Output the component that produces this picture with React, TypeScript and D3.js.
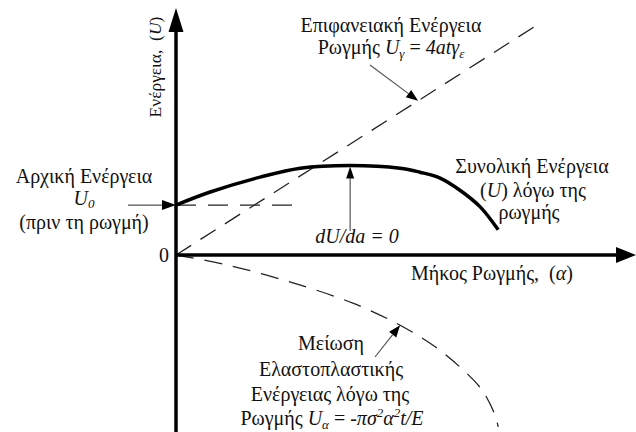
import React from "react";
import * as d3 from "d3";

const W = 636;
const H = 432;

// Crack length (a) against energy (U), arbitrary units
const surfaceA = [0, 81];
const surfaceU = [0, 51.6];

const elasticA = [0, 11.3, 26, 39.3, 49.8, 57.6, 63.1, 68, 70.9, 71.6];
const elasticU = [0, -2.2, -6.2, -10.7, -15.6, -20.4, -24.9, -30, -35.6, -38.2];

const totalA = [0, 7.6, 18.7, 27.6, 38.7, 49.8, 54.2, 58.7, 63.1, 67.6, 71.6];
const totalU = [11.1, 14, 17.3, 19.3, 19.9, 19.3, 18.4, 17.1, 14.4, 10.7, 5.6];

const initialU = 11.1;
const initialLineEnd = 27.1;

// where the leader arrows touch their curves
const surfaceArrowA = 53.8;
const elasticArrowIndex = 4;

const FONT = "Liberation Serif, DejaVu Serif, Times New Roman, serif";
const NB = "\u00a0";

type Pt = [number, number];

function Arrow({ from, to, head = 12, half = 4.5, stroke = "#555", width = 1.2 }: { from: Pt; to: Pt; head?: number; half?: number; stroke?: string; width?: number }) {
  const ang = Math.atan2(to[1] - from[1], to[0] - from[0]);
  const c = Math.cos(ang);
  const s = Math.sin(ang);
  const bx = to[0] - c * head;
  const by = to[1] - s * head;
  const pts = [
    [to[0], to[1]],
    [bx - s * half, by + c * half],
    [bx + s * half, by - c * half],
  ]
    .map((p) => p.join(","))
    .join(" ");
  return (
    <g>
      <line x1={from[0]} y1={from[1]} x2={bx} y2={by} stroke={stroke} strokeWidth={width} />
      <polygon points={pts} fill="#000" />
    </g>
  );
}

export default function App() {
  const x = d3.scaleLinear().domain([0, 100]).range([176, 626]);
  const y = d3.scaleLinear().domain([-40, 55]).range([435, 7.5]);

  const line = d3
    .line<Pt>()
    .x((d) => x(d[0]))
    .y((d) => y(d[1]));
  const smooth = d3
    .line<Pt>()
    .x((d) => x(d[0]))
    .y((d) => y(d[1]))
    .curve(d3.curveCatmullRom.alpha(0.5));

  const surfacePts: Pt[] = surfaceA.map((a, i) => [a, surfaceU[i]]);
  const elasticPts: Pt[] = elasticA.map((a, i) => [a, elasticU[i]]);
  const totalPts: Pt[] = totalA.map((a, i) => [a, totalU[i]]);

  const ox = x(0);
  const oy = y(0);

  const peakIdx = d3.maxIndex(totalU);
  const peakX = x(totalA[peakIdx]);
  const peakY = y(totalU[peakIdx]);

  const surfSlope = (surfaceU[1] - surfaceU[0]) / (surfaceA[1] - surfaceA[0]);
  const surfTip: Pt = [x(surfaceArrowA), y(surfaceArrowA * surfSlope)];
  const elasticTip: Pt = [x(elasticA[elasticArrowIndex]), y(elasticU[elasticArrowIndex])];

  const dashed = { fill: "none", stroke: "#222", strokeWidth: 1.3, strokeDasharray: "18 11" };
  const fs = 20;
  const sub = 13;

  return (
    <svg
      width={W}
      height={H}
      viewBox={`0 0 ${W} ${H}`}
      style={{ position: "absolute", left: 0, top: 0, background: "#fff", fontFamily: FONT, fontSize: fs }}
      fill="#111"
    >
      <rect width={W} height={H} fill="#fff" />

      {/* dashed component curves */}
      <path d={line(surfacePts) ?? ""} {...dashed} />
      <path d={smooth(elasticPts) ?? ""} {...dashed} />
      <line x1={ox} x2={x(initialLineEnd)} y1={y(initialU)} y2={y(initialU)} {...dashed} strokeDasharray="20 12" />

      {/* total energy */}
      <path d={smooth(totalPts) ?? ""} fill="none" stroke="#000" strokeWidth={3.5} />

      {/* axes */}
      <line x1={ox} x2={ox} y1={H} y2={32} stroke="#000" strokeWidth={3.5} />
      <polygon points={`${ox},8 ${ox - 7.5},32 ${ox + 7.5},32`} fill="#000" />
      <line x1={ox} x2={618} y1={oy} y2={oy} stroke="#000" strokeWidth={3.5} />
      <polygon points={`636,${oy} 616,${oy - 8} 616,${oy + 8}`} fill="#000" />

      <text x={169} y={262} textAnchor="end">0</text>

      <text transform={`translate(161,67) rotate(-90)`} textAnchor="middle" fontSize={17.5}>
        {`Ενέργεια,${NB} (`}<tspan fontStyle="italic">U</tspan>)
      </text>

      <text x={492} y={280} textAnchor="middle">
        {`Μήκος Ρωγμής,${NB} (`}<tspan fontStyle="italic">α</tspan>)
      </text>

      {/* surface energy label */}
      <text x={391} y={32} textAnchor="middle">Επιφανειακή Ενέργεια</text>
      <text x={391} y={54} textAnchor="middle">
        Ρωγμής <tspan fontStyle="italic">U</tspan>
        <tspan fontStyle="italic" fontSize={sub} dy={4}>γ</tspan>
        <tspan dy={-4}> = </tspan>
        <tspan fontStyle="italic">4atγ</tspan>
        <tspan fontStyle="italic" fontSize={sub} dy={4}>ε</tspan>
      </text>
      <Arrow from={[370, 65]} to={surfTip} />

      {/* initial energy label */}
      <text x={84} y={183} textAnchor="middle">Αρχική Ενέργεια</text>
      <text x={84} y={205} textAnchor="middle">
        <tspan fontStyle="italic">U</tspan>
        <tspan fontStyle="italic" fontSize={sub} dy={3}>0</tspan>
      </text>
      <text x={84} y={229} textAnchor="middle">(πριν τη ρωγμή)</text>
      <Arrow from={[128, y(initialU)]} to={[ox, y(initialU)]} head={14} half={5} />

      {/* peak */}
      <Arrow from={[peakX, 231]} to={[peakX, peakY + 1]} head={12} half={4} />
      <text x={357} y={243} textAnchor="middle" fontStyle="italic">dU/da = 0</text>

      {/* total energy label */}
      <text x={532} y={173} textAnchor="middle">Συνολική Ενέργεια</text>
      <text x={533} y={197} textAnchor="middle">
        (<tspan fontStyle="italic">U</tspan>) λόγω της
      </text>
      <text x={529} y={219} textAnchor="middle">ρωγμής</text>

      {/* elastoplastic energy label */}
      <text x={331} y={350} textAnchor="middle">Μείωση</text>
      <text x={331} y={376} textAnchor="middle">Ελαστοπλαστικής</text>
      <text x={330} y={401} textAnchor="middle">Ενέργειας λόγω της</text>
      <text x={332} y={425} textAnchor="middle">
        Ρωγμής <tspan fontStyle="italic">U</tspan>
        <tspan fontStyle="italic" fontSize={sub} dy={4}>α</tspan>
        <tspan dy={-4}> = </tspan>
        <tspan fontStyle="italic">-πσ</tspan>
        <tspan fontStyle="italic" fontSize={sub} dy={-8}>2</tspan>
        <tspan fontStyle="italic" dy={8}>α</tspan>
        <tspan fontStyle="italic" fontSize={sub} dy={-8}>2</tspan>
        <tspan fontStyle="italic" dy={8}>t/E</tspan>
      </text>
      <Arrow from={[375, 357]} to={elasticTip} />
    </svg>
  );
}
